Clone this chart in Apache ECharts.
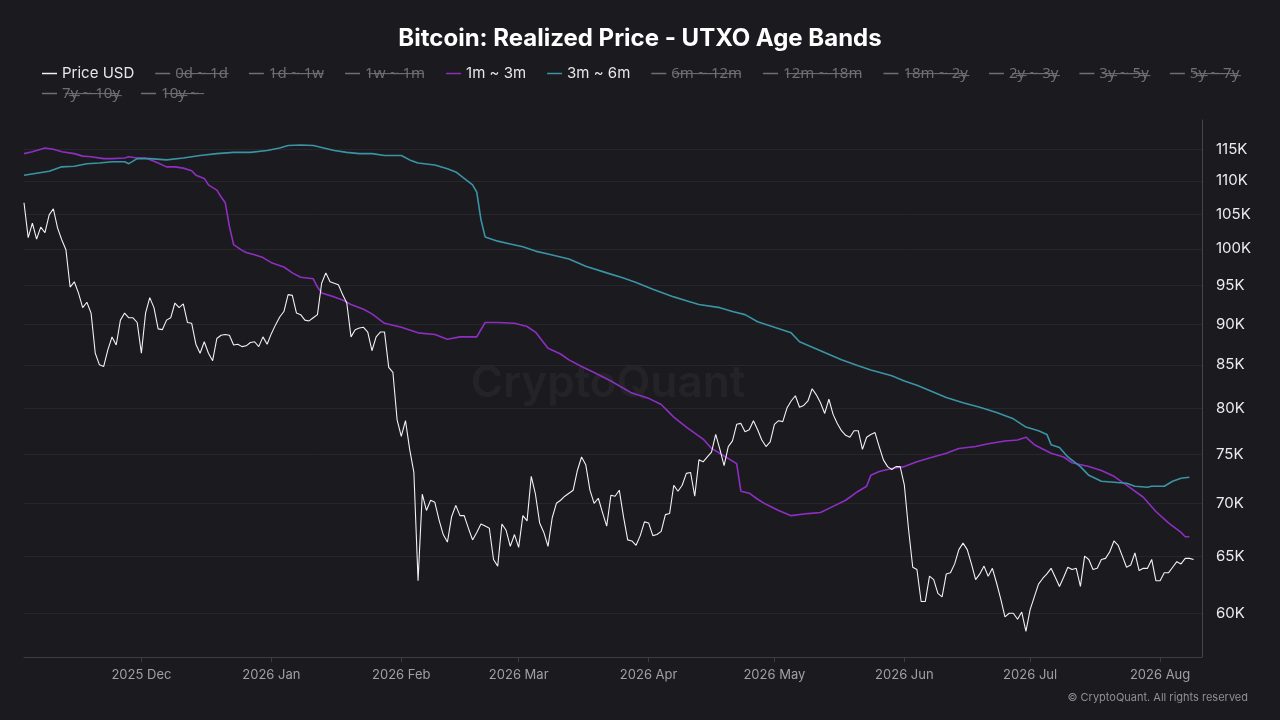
<!DOCTYPE html>
<html><head><meta charset="utf-8">
<script src="https://cdn.jsdelivr.net/npm/echarts@6/dist/echarts.min.js"></script>
<style>html,body{margin:0;padding:0;background:#1a1a1f}#c{width:1280px;height:720px}</style>
</head><body><div id="c"></div>
<script>
// daily category axis range
const startDate = '2025-11-03';
const endDate = '2026-08-11';
const monthNames = ['Jan','Feb','Mar','Apr','May','Jun','Jul','Aug','Sep','Oct','Nov','Dec'];
// y tick labels (thousands USD)
const yTicksK = [60, 65, 70, 75, 80, 85, 90, 95, 100, 105, 110, 115];
const yMinK = 56.43, yMaxK = 119.82;

// Price USD, daily from 2025-11-03 (thousands USD)
const priceK = [
106.7,101.6,103.7,101.4,103.1,102.3,104.9,105.8,103.0,101.3,
99.9,94.8,95.5,94.0,92.1,92.8,91.4,86.4,85.0,84.8,
86.8,88.4,87.4,90.5,91.4,90.8,90.8,90.2,86.4,91.4,
93.4,92.1,89.4,89.3,90.5,90.8,92.7,92.1,92.6,90.2,
90.1,87.5,86.4,87.8,86.4,85.5,88.2,88.6,88.7,88.6,
87.4,87.5,87.2,87.3,87.7,87.8,87.2,88.4,87.5,88.8,
89.9,90.9,91.6,93.8,93.7,91.4,91.2,90.5,90.4,90.8,
91.2,95.3,96.7,95.5,95.3,95.1,93.8,92.7,88.4,89.3,
89.5,89.6,89.0,86.7,88.4,89.0,89.0,84.7,84.1,78.7,
76.9,78.6,75.5,73.1,62.8,70.9,69.3,70.3,70.1,68.4,
67.0,66.3,68.7,69.8,68.8,68.8,67.6,66.5,67.2,68.0,
67.8,67.6,64.7,64.1,68.0,67.4,65.9,67.0,65.8,68.8,
68.3,72.7,70.9,68.1,67.2,65.9,68.6,70.0,70.3,70.7,
71.0,71.3,73.3,74.7,73.9,71.3,70.0,70.5,69.1,67.8,
70.8,70.7,71.3,68.7,66.5,66.4,66.0,66.9,68.2,68.1,
66.9,67.0,67.3,68.9,69.0,71.8,71.2,71.8,73.0,73.1,
70.7,74.4,74.2,74.7,75.2,77.1,75.5,73.8,75.8,76.4,
78.2,78.3,77.4,77.6,78.6,77.6,76.5,75.8,76.3,78.2,
78.6,78.5,80.0,80.8,81.4,80.1,80.3,80.8,82.2,81.5,
80.6,79.4,81.0,79.3,78.3,77.5,77.0,76.8,77.5,77.5,
75.5,76.8,77.1,77.3,75.8,74.4,73.7,73.4,73.7,73.7,
71.8,67.5,64.0,63.8,61.0,61.0,63.2,62.9,61.7,61.4,
63.4,63.5,64.3,65.6,66.2,65.6,64.3,62.9,63.4,64.1,
63.2,63.9,62.6,61.2,59.7,60.0,60.0,59.5,60.1,58.5,
60.3,61.4,62.5,63.0,63.4,63.9,63.1,62.3,63.1,64.0,
63.8,63.9,62.3,65.0,64.7,63.8,63.9,64.7,64.8,65.4,
66.4,66.0,65.0,64.0,64.2,65.3,63.7,63.9,63.9,64.7,
62.8,62.8,63.5,63.5,64.0,64.5,64.3,64.8,64.8,64.7
];

// 1m ~ 3m realized price: [day index from start, thousands USD]
const band1m3m = [
[0,114.3],[2,114.6],[5,115.2],[7,115.0],[9,114.6],[12,114.3],[14,113.9],[16,113.8],[19,113.5],[21,113.5],
[24,113.6],[25,113.8],[27,113.6],[29,113.6],[31,113.1],[32,112.8],[34,112.2],[36,112.2],[38,112.0],[40,111.6],
[41,110.9],[43,110.4],[44,109.4],[46,108.6],[47,107.6],[48,106.7],[49,103.2],[50,100.6],[52,99.8],[53,99.5],
[55,99.2],[57,98.8],[59,98.1],[62,97.5],[64,96.7],[66,96.1],[69,95.9],[70,94.8],[71,94.0],[74,93.5],
[76,93.1],[78,92.5],[81,91.9],[83,91.3],[86,90.1],[90,89.6],[94,88.9],[98,88.7],[101,88.1],[104,88.4],
[108,88.4],[110,90.2],[113,90.2],[117,90.1],[120,89.7],[122,89.0],[125,87.0],[128,86.3],[130,85.6],[133,84.8],
[136,84.1],[140,83.1],[145,81.7],[149,81.1],[152,80.4],[155,79.0],[158,77.9],[162,76.6],[164,75.6],[167,74.8],
[170,74.0],[171,71.2],[173,71.0],[175,70.4],[177,69.9],[180,69.3],[183,68.8],[187,69.0],[190,69.1],[193,69.7],
[196,70.3],[199,71.2],[201,71.7],[202,72.8],[204,73.2],[207,73.5],[210,73.7],[213,74.2],[216,74.6],[220,75.1],
[223,75.6],[227,75.8],[230,76.1],[234,76.4],[237,76.5],[239,76.8],[241,76.0],[245,75.1],[248,74.7],[250,74.1],
[254,73.7],[257,73.3],[260,72.7],[263,71.8],[267,70.6],[270,69.2],[273,68.1],[276,67.2],[277,66.8],[278,66.8]
];

// 3m ~ 6m realized price: [day index from start, thousands USD]
const band3m6m = [
[0,110.9],[3,111.2],[6,111.5],[9,112.2],[12,112.3],[15,112.7],[18,112.8],[21,113.0],[24,113.0],[25,112.7],
[27,113.5],[30,113.5],[34,113.3],[38,113.6],[42,114.0],[46,114.3],[50,114.5],[54,114.5],[58,114.8],[61,115.2],
[63,115.6],[66,115.7],[69,115.6],[71,115.3],[74,114.8],[77,114.5],[80,114.3],[83,114.3],[86,114.0],[90,114.0],
[92,113.3],[94,112.8],[98,112.5],[101,111.9],[103,111.4],[105,110.4],[107,109.4],[108,108.3],[109,104.2],[110,101.7],
[113,101.1],[116,100.7],[119,100.3],[122,99.7],[125,99.3],[130,98.6],[134,97.6],[139,96.7],[143,96.0],[146,95.4],
[150,94.5],[155,93.5],[158,93.0],[161,92.5],[166,92.1],[169,91.6],[172,91.2],[175,90.3],[179,89.6],[183,88.9],
[185,87.8],[190,86.7],[195,85.6],[199,84.9],[202,84.4],[207,83.7],[210,83.1],[213,82.6],[217,81.8],[220,81.2],
[224,80.6],[228,80.1],[232,79.5],[236,78.8],[239,77.9],[242,77.5],[244,77.1],[245,76.0],[247,75.7],[249,74.7],
[252,73.7],[254,72.8],[257,72.2],[260,72.1],[263,72.0],[265,71.7],[268,71.6],[269,71.7],[272,71.7],[274,72.2],
[276,72.5],[278,72.6]
];

const legendRow1 = ['Price USD','0d ~ 1d','1d ~ 1w','1w ~ 1m','1m ~ 3m','3m ~ 6m','6m ~ 12m','12m ~ 18m','18m ~ 2y','2y ~ 3y','3y ~ 5y','5y ~ 7y'];
const legendRow2 = ['7y ~ 10y','10y ~'];
const legendNames = legendRow1.concat(legendRow2);
const activeNames = ['Price USD','1m ~ 3m','3m ~ 6m'];
const seriesColors = {'Price USD':'#f2f2f2','1m ~ 3m':'#8e2fc2','3m ~ 6m':'#3b94a6'};

// categories
const dates = [];
for (let t = Date.parse(startDate + 'T00:00:00Z'); t <= Date.parse(endDate + 'T00:00:00Z'); t += 86400000) {
  dates.push(new Date(t).toISOString().slice(0, 10));
}
const isMonthStart = (i, v) => v.slice(8) === '01';
const strike = s => s.split('').map(c => c + '\u0336').join('');

const dataFor = name => {
  if (name === 'Price USD') return priceK.map((v, i) => [i, Math.log(v)]);
  if (name === '1m ~ 3m') return band1m3m.map(p => [p[0], Math.log(p[1])]);
  if (name === '3m ~ 6m') return band3m6m.map(p => [p[0], Math.log(p[1])]);
  return [];
};

const selected = {};
legendNames.forEach(n => { selected[n] = activeNames.includes(n); });

const series = legendNames.map(n => ({
  name: n, type: 'line', showSymbol: false, symbol: 'none',
  color: seriesColors[n] || '#777',
  lineStyle: { width: n === 'Price USD' ? 1.1 : 1.6, color: seriesColors[n] || '#777' },
  data: dataFor(n), z: n === 'Price USD' ? 3 : 2
}));

const FONT = 'Inter, "Noto Sans", sans-serif';
const legendBase = {
  selected: selected, left: 42, padding: 0, orient: 'horizontal',
  itemGap: 21, itemWidth: 15, itemHeight: 1.5, icon: 'rect',
  formatter: n => activeNames.includes(n) ? n : strike(n),
  textStyle: { color: '#e8e8e8', fontSize: 15, fontFamily: FONT },
  inactiveColor: '#6f6f74'
};

const chart = echarts.init(document.getElementById('c'), null, { renderer: 'canvas' });
chart.setOption({
  animation: false,
  backgroundColor: '#1a1a1f',
  textStyle: { fontFamily: FONT },
  title: {
    text: 'Bitcoin: Realized Price - UTXO Age Bands', left: 'center', top: 22,
    textStyle: { color: '#ffffff', fontSize: 24, fontWeight: 'bold', fontFamily: FONT }
  },
  legend: [
    Object.assign({}, legendBase, { data: legendRow1, top: 66 }),
    Object.assign({}, legendBase, { data: legendRow2, top: 86 })
  ],
  grid: { left: 24, right: 78, top: 120, bottom: 63, containLabel: false },
  xAxis: {
    type: 'category', data: dates, boundaryGap: false,
    axisLine: { show: true, lineStyle: { color: '#3c3c43', width: 1 } },
    axisTick: { show: true, interval: isMonthStart, length: 5, lineStyle: { color: '#3c3c43' } },
    axisLabel: {
      interval: isMonthStart, color: '#a0a0a4', fontSize: 13, margin: 12,
      formatter: v => v.slice(0, 4) + ' ' + monthNames[+v.slice(5, 7) - 1]
    },
    splitLine: { show: false }
  },
  yAxis: {
    type: 'value', position: 'right', min: Math.log(yMinK), max: Math.log(yMaxK),
    axisLine: { show: true, lineStyle: { color: '#45454c', width: 1 } },
    axisTick: { show: false, customValues: yTicksK.map(Math.log) },
    axisLabel: {
      customValues: yTicksK.map(Math.log), color: '#ececec', fontSize: 15, margin: 14,
      formatter: v => Math.round(Math.exp(v)) + 'K'
    },
    splitLine: { show: true, lineStyle: { color: '#26262c', width: 1 } }
  },
  graphic: [
    { type: 'text', z: 0, silent: true,
      style: { text: 'CryptoQuant', x: 608, y: 384, align: 'center', verticalAlign: 'middle',
        font: '600 44px ' + FONT, fill: 'rgba(255,255,255,0.045)' } },
    { type: 'text', z: 10, silent: true,
      style: { text: '\u00A9 CryptoQuant. All rights reserved', x: 1248, y: 698, align: 'right', verticalAlign: 'middle',
        font: '11px ' + FONT, fill: '#8f8f94' } }
  ],
  series: series
});
</script>
</body></html>
